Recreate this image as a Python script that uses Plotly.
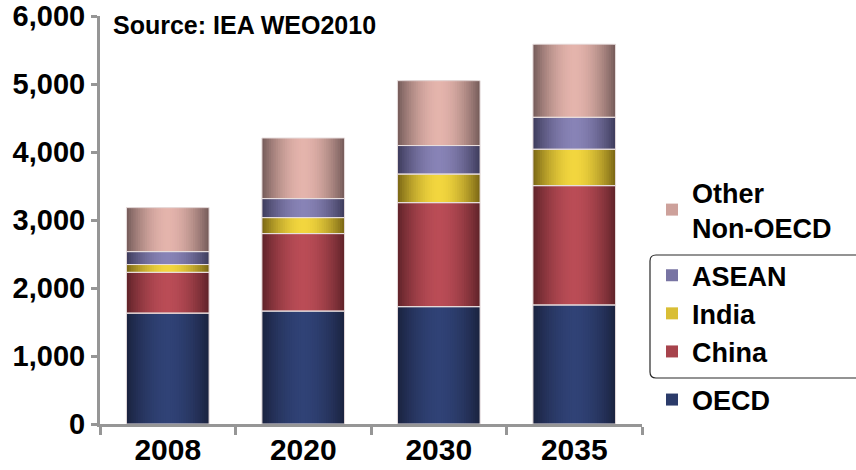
import numpy as np
import plotly.graph_objects as go

# ---- data ----
years = ["2008", "2020", "2030", "2035"]
series_names = ["OECD", "China", "India", "ASEAN", "Other<br>Non-OECD"]
oecd = [1630, 1660, 1725, 1750]
china = [600, 1140, 1530, 1755]
india = [115, 235, 420, 535]
asean = [190, 280, 420, 470]
other = [647, 891, 954, 1075]
totals = [3182, 4206, 5049, 5585]
y_ticks = [0, 1000, 2000, 3000, 4000, 5000, 6000]

series_values = [oecd, china, india, asean, other]
edge_colors = [(26, 34, 62), (94, 34, 40), (120, 100, 20), (60, 58, 90), (115, 90, 88)]
center_colors = [(48, 66, 118), (186, 76, 86), (242, 214, 62), (136, 131, 182), (228, 180, 172)]
groups = ["g3", "g2", "g2", "g2", "g1"]
ranks = [5, 4, 3, 2, 1]

FONT = "Liberation Sans, Arial, Helvetica, sans-serif"
W = 0.61
N = 18

fig = go.Figure()

bases = np.cumsum([[0] * 4] + series_values[:-1], axis=0)

def mix(c0, c1, t):
    return "rgb(%d,%d,%d)" % tuple(int(round(a + (b - a) * t)) for a, b in zip(c0, c1))

for i, (name, vals) in enumerate(zip(series_names, series_values)):
    for k in range(N):
        d = 1 - (k + 0.5) / N
        t = d ** 1.8
        col = mix(center_colors[i], edge_colors[i], t)
        show = (k == int(N * 0.6))
        fig.add_trace(go.Bar(
            x=years, y=vals, base=bases[i], width=W * (1 - k / N),
            marker=dict(color=col, line=dict(width=0)),
            name=name, legendgroup=groups[i], legendrank=ranks[i], showlegend=show,
            hoverinfo="skip" if not show else None,
        ))

# segment outlines
for i, vals in enumerate(series_values):
    fig.add_trace(go.Bar(
        x=years, y=vals, base=bases[i], width=W,
        marker=dict(color="rgba(0,0,0,0)", line=dict(width=1, color="rgb(232,222,222)")),
        showlegend=False, hoverinfo="skip",
    ))

for yr, tot in zip(years, totals):
    fig.add_annotation(x=yr, y=tot, text=f"{tot:,}", showarrow=False,
                       yanchor="bottom", yshift=2,
                       font=dict(family=FONT, size=26, color="black", weight="bold"))

# legend box
def px2paper_x(px):
    return (px - 100) / 542.0

def px2paper_y(py):
    return (424 - py) / 408.0

x0, x1 = px2paper_x(650), px2paper_x(870)
y0, y1 = px2paper_y(378), px2paper_y(255)
rx, ry = 6 / 542.0, 6 / 408.0
path = (f"M{x0 + rx},{y1} L{x1},{y1} L{x1},{y0} L{x0 + rx},{y0} "
        f"Q{x0},{y0} {x0},{y0 + ry} L{x0},{y1 - ry} Q{x0},{y1} {x0 + rx},{y1} Z")
fig.add_shape(type="path", path=path, xref="paper", yref="paper",
              line=dict(color="rgb(40,40,40)", width=1.2), fillcolor="rgba(0,0,0,0)")

fig.update_layout(
    width=856, height=470,
    margin=dict(l=100, r=214, t=16, b=46),
    paper_bgcolor="white", plot_bgcolor="white",
    barmode="overlay",
    showlegend=True,
    title=dict(text="Source: IEA WEO2010", x=113 / 856, xanchor="left",
               y=1 - 25 / 470, yanchor="middle",
               font=dict(family=FONT, size=25, color="black", weight="bold")),
    legend=dict(x=px2paper_x(652), xanchor="left", y=px2paper_y(168), yanchor="top",
                traceorder="grouped", tracegroupgap=10,
                font=dict(family=FONT, size=27, color="black", weight="bold"),
                bgcolor="rgba(0,0,0,0)", itemclick=False),
    xaxis=dict(type="category", categoryorder="array", categoryarray=years,
               range=[-0.5, 3.5], showline=True, linecolor="rgb(150,150,150)", linewidth=3,
               ticks="outside", tickson="boundaries", ticklen=8, tickwidth=3,
               tickcolor="rgb(150,150,150)", showgrid=False, automargin=False,
               ticklabelstandoff=-3,
               tickfont=dict(family=FONT, size=30, color="black", weight="bold")),
    yaxis=dict(range=[0, 6000], tickvals=y_ticks, tickformat=",", showline=True,
               linecolor="rgb(150,150,150)", linewidth=3, ticks="outside", ticklen=6,
               tickwidth=3, tickcolor="rgb(150,150,150)", showgrid=False, zeroline=False,
               automargin=False,
               tickfont=dict(family=FONT, size=29, color="black", weight="bold")),
)

fig.write_html("out.html")
